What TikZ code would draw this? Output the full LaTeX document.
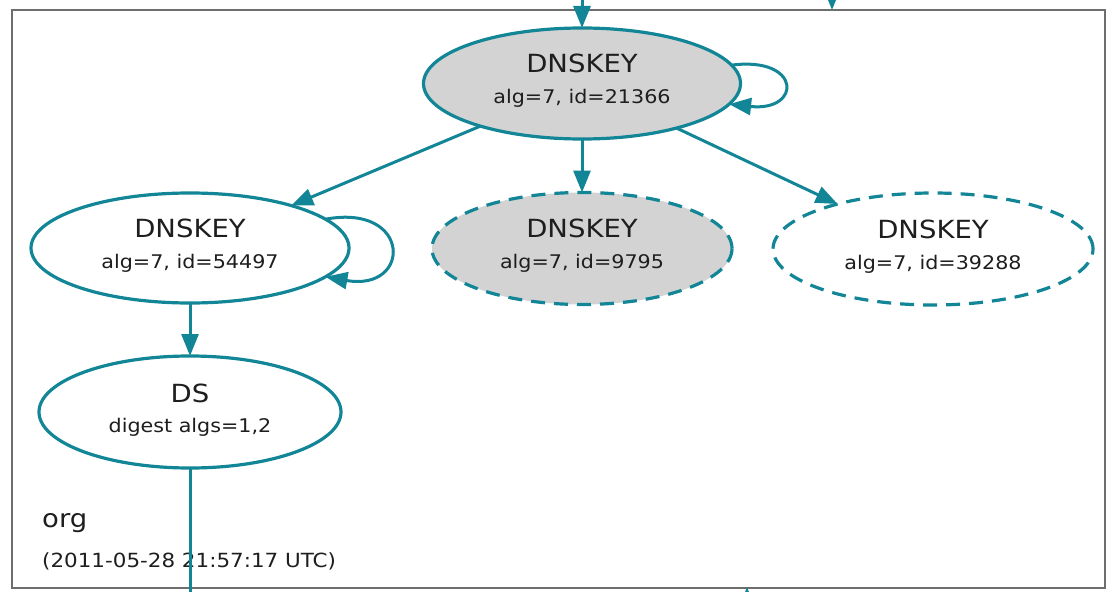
\documentclass[tikz,border=0pt]{standalone}
\usepackage{fontspec}
\usepackage{graphicx}
\setmainfont{DejaVu Sans}
\usetikzlibrary{arrows.meta,shapes.geometric}
\definecolor{tealc}{RGB}{18,134,150}
\definecolor{keygray}{RGB}{211,211,211}
\definecolor{framegray}{RGB}{110,110,110}
\definecolor{txt}{RGB}{30,30,30}
\newcommand\hsc[1]{\scalebox{1.1}[1]{#1}}
\tikzset{
  ell/.style={ellipse, draw=tealc, line width=3.2pt, inner sep=0pt, outer sep=0pt},
  dashkey/.style={ell, dash pattern=on 14pt off 9pt},
  bigtxt/.style={font=\fontsize{25}{28}\selectfont, text=txt, anchor=base, inner sep=0pt},
  smalltxt/.style={font=\fontsize{18.8}{22}\selectfont, text=txt, anchor=base, inner sep=0pt},
  edgearrow/.style={draw=tealc, line width=3pt, -{Triangle[length=22pt,width=17pt]}},
  edgeline/.style={draw=tealc, line width=3pt},
  frame/.style={rectangle, draw=framegray, line width=1.8pt, inner sep=0pt, outer sep=0pt},
  zonetxt/.style={text=txt, anchor=base west, inner sep=0pt},
}
\begin{document}
\begin{tikzpicture}[x=1pt,y=-1pt]
\useasboundingbox (0,0) rectangle (1107,591);
\node[frame, minimum width=1093pt, minimum height=578pt] (cluster) at (558.5,299) {};

\node[ell, fill=keygray, minimum width=317pt, minimum height=111pt] (k1) at (582,83.5) {};
\node[ell, fill=white, minimum width=318pt, minimum height=110pt] (k2) at (190,248) {};
\node[dashkey, fill=keygray, minimum width=300pt, minimum height=112pt] (k3) at (582,248.5) {};
\node[dashkey, fill=white, minimum width=320pt, minimum height=112pt] (k4) at (933,249) {};
\node[ell, fill=white, minimum width=302pt, minimum height=112pt] (ds) at (190,412) {};

\node[bigtxt] (k1a) at ([yshift=11pt]k1.center) {\hsc{DNSKEY}};
\node[smalltxt] (k1b) at ([yshift=-20pt]k1.center) {\hsc{alg=7, id=21366}};
\node[bigtxt] (k2a) at ([yshift=11pt]k2.center) {\hsc{DNSKEY}};
\node[smalltxt] (k2b) at ([yshift=-20pt]k2.center) {\hsc{alg=7, id=54497}};
\node[bigtxt] (k3a) at ([yshift=11pt]k3.center) {\hsc{DNSKEY}};
\node[smalltxt] (k3b) at ([yshift=-20pt]k3.center) {\hsc{alg=7, id=9795}};
\node[bigtxt] (k4a) at ([yshift=11pt]k4.center) {\hsc{DNSKEY}};
\node[smalltxt] (k4b) at ([yshift=-20pt]k4.center) {\hsc{alg=7, id=39288}};
\node[bigtxt] (dsa) at ([yshift=10pt]ds.center) {\hsc{DS}};
\node[smalltxt] (dsb) at ([yshift=-20pt]ds.center) {\hsc{digest algs=1,2}};

\node[zonetxt, font=\fontsize{25}{28}\selectfont] (zname) at (42,527) {\hsc{org}};
\node[zonetxt, font=\fontsize{19.5}{22}\selectfont] (ztime) at (42,567) {\hsc{(2011-05-28 21:57:17 UTC)}};

\coordinate (in1) at (582,-30);
\coordinate (in2a) at (832,-30);
\coordinate (in2b) at (832,10);
\coordinate (out1) at (190,640);
\coordinate (in3a) at (747,630);
\coordinate (in3b) at (747,587);

\draw[edgearrow] (in1) -- (k1);
\draw[edgearrow] (in2a) -- (in2b);
\draw[edgearrow] (k1) -- (k2);
\draw[edgearrow] (k1) -- (k3);
\draw[edgearrow] (k1) -- (k4);
\draw[edgearrow] (k2) -- (ds);
\draw[edgeline] (ds.south) -- (ds.south |- out1);
\draw[edgearrow] (in3a) -- (in3b);
\draw[edgearrow] (k1.7) .. controls (802,56) and (802,112) .. (k1.-8);
\draw[edgearrow] (k2.12) .. controls (412,203) and (412,292) .. (k2.-12);
\end{tikzpicture}
\end{document}
